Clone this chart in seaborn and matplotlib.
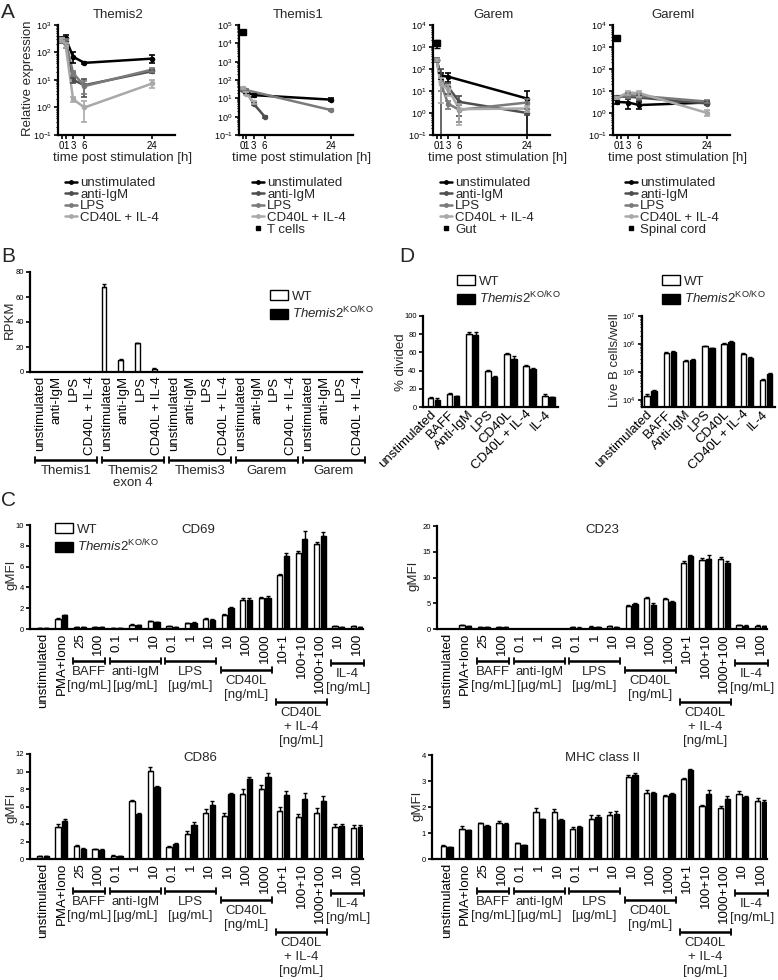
import numpy as np
import pandas as pd
import matplotlib
matplotlib.use("Agg")
import matplotlib.pyplot as plt
import matplotlib.transforms as mtrans
import seaborn as sns
from matplotlib.lines import Line2D
from matplotlib.patches import Patch
from matplotlib.ticker import LogLocator, NullFormatter, MultipleLocator

nan = np.nan

# ---------------- Panel A: qPCR time course ----------------
a_times = [0, 1, 3, 6, 24]
a_conditions = ["unstimulated", "anti-IgM", "LPS", "CD40L + IL-4"]
a_genes = ["Themis2", "Themis1", "Garem", "Gareml"]

themis2_expr = [[300, 330, 70, 42, 60],
                [280, 200, 10, 6.5, 21],
                [300, 260, 18, 6.0, 24],
                [290, 190, 2.0, 1.0, 7.5]]
themis2_err = [[60, 90, 30, 4, 18],
               [50, 50, 2, 4, 3],
               [50, 60, 4, 3, 4],
               [40, 40, 0.4, 0.7, 2.5]]

themis1_expr = [[30, 22, 15, nan, 8.5],
                [32, 24, 5, 1.0, nan],
                [30, 28, nan, nan, 2.3],
                [35, 18, 6, nan, nan]]
themis1_err = [[4, 4, 3, nan, 1.5],
               [4, 3, 0.8, 0.15, nan],
               [4, 4, nan, nan, 0.3],
               [4, 3, 1, nan, nan]]

garem_expr = [[260, 50, 45, nan, 4.5],
              [260, 30, 15, 3.2, 1.0],
              [260, 25, 2.6, 1.4, 3.0],
              [260, 20, 12, 1.5, 1.6]]
garem_err = [[40, 15, 20, nan, 5.5],
             [60, 70, 8, 2.5, 0.15],
             [50, 15, 1.0, 1.0, 1.5],
             [40, 17, 6, 1.2, 0.5]]

gareml_expr = [[3.2, nan, 3.0, 2.3, 3.0],
               [5.5, nan, 5.5, 5.0, 2.7],
               [5.0, nan, 6.5, 6.0, 3.3],
               [5.0, nan, 8.5, 8.0, 1.0]]
gareml_err = [[0.5, nan, 1.5, 0.8, 0.5],
              [0.5, nan, 1.0, 1.0, 0.4],
              [0.5, nan, 1.5, 1.5, 0.5],
              [0.5, nan, 2.0, 2.5, 0.3]]

tissue_names = [None, "T cells", "Gut", "Spinal cord"]
tissue_values = [nan, 40000, 1500, 2500]
tissue_errs = [nan, 8000, 600, 300]

# ---------------- Panel B: RNA-seq RPKM ----------------
b_stims = ["unstimulated", "anti-IgM", "LPS", "CD40L + IL-4"]
b_genes = ["Themis1", "Themis2\nexon 4", "Themis3", "Garem", "Garem"]
b_wt = [0, 0, 0, 0, 68, 9.5, 23, 2.5, 0, 0, 0, 0, 0, 0, 0, 0, 0, 0, 0, 0]
b_wt_err = [0, 0, 0, 0, 2.0, 0.8, 0.4, 0.5, 0, 0, 0, 0, 0, 0, 0, 0, 0, 0, 0, 0]
b_ko = [0, 0, 0, 0, 0, 0, 0, 0, 0, 0, 0, 0, 0, 0, 0, 0, 0, 0, 0, 0]
b_ko_err = [0, 0, 0, 0, 0, 0, 0, 0, 0, 0, 0, 0, 0, 0, 0, 0, 0, 0, 0, 0]

# ---------------- Panel C: surface markers ----------------
c_ticks = ["unstimulated", "PMA+Iono", "25", "100", "0.1", "1", "10", "0.1", "1",
           "10", "10", "100", "1000", "10+1", "100+10", "1000+100", "10", "100"]
c_groups = [("BAFF\n[ng/mL]", 2, 3), ("anti-IgM\n[µg/mL]", 4, 6),
            ("LPS\n[µg/mL]", 7, 9), ("CD40L\n[ng/mL]", 10, 12),
            ("CD40L\n+ IL-4\n[ng/mL]", 13, 15), ("IL-4\n[ng/mL]", 16, 17)]

cd69_wt = [0.1, 1.0, 0.2, 0.15, 0.1, 0.4, 0.75, 0.25, 0.55, 0.95, 1.3, 2.75, 2.95, 5.15, 7.3, 8.15, 0.25, 0.25]
cd69_wt_err = [0.02, 0.08, 0.03, 0.02, 0.02, 0.05, 0.06, 0.03, 0.06, 0.08, 0.1, 0.2, 0.1, 0.15, 0.2, 0.25, 0.03, 0.03]
cd69_ko = [0.1, 1.3, 0.15, 0.15, 0.1, 0.35, 0.65, 0.2, 0.6, 0.9, 2.0, 2.8, 3.0, 7.05, 8.7, 8.9, 0.2, 0.2]
cd69_ko_err = [0.02, 0.08, 0.03, 0.02, 0.02, 0.04, 0.05, 0.03, 0.06, 0.07, 0.08, 0.2, 0.15, 0.3, 0.7, 0.45, 0.03, 0.03]

cd23_wt = [0.05, 0.75, 0.35, 0.4, 0.05, 0.05, 0.05, 0.3, 0.45, 0.5, 4.4, 6.0, 5.8, 12.9, 13.4, 13.5, 0.75, 0.65]
cd23_wt_err = [0.02, 0.1, 0.05, 0.05, 0.01, 0.01, 0.01, 0.05, 0.05, 0.05, 0.2, 0.2, 0.2, 0.4, 0.3, 0.4, 0.1, 0.05]
cd23_ko = [0.05, 0.55, 0.3, 0.3, 0.05, 0.05, 0.05, 0.25, 0.35, 0.35, 4.85, 4.7, 5.2, 14.1, 13.5, 12.9, 0.6, 0.5]
cd23_ko_err = [0.02, 0.1, 0.05, 0.05, 0.01, 0.01, 0.01, 0.05, 0.05, 0.05, 0.2, 0.3, 0.2, 0.3, 0.8, 0.4, 0.1, 0.05]

cd86_wt = [0.3, 3.7, 1.45, 1.1, 0.4, 6.6, 10.1, 1.35, 2.9, 5.3, 4.9, 7.4, 8.0, 5.5, 4.75, 5.3, 3.7, 3.6]
cd86_wt_err = [0.03, 0.3, 0.1, 0.08, 0.05, 0.1, 0.4, 0.1, 0.3, 0.4, 0.35, 0.6, 0.5, 0.45, 0.35, 0.5, 0.3, 0.25]
cd86_ko = [0.3, 4.4, 1.2, 1.05, 0.35, 5.2, 8.2, 1.75, 3.9, 6.2, 7.4, 9.2, 9.4, 7.3, 6.9, 6.6, 3.8, 3.7]
cd86_ko_err = [0.03, 0.2, 0.05, 0.05, 0.05, 0.1, 0.15, 0.1, 0.35, 0.4, 0.15, 0.15, 0.45, 0.45, 0.6, 0.55, 0.2, 0.15]

mhc_wt = [0.5, 1.15, 1.37, 1.4, 0.6, 1.82, 1.8, 1.15, 1.55, 1.7, 3.15, 2.55, 2.42, 3.08, 2.05, 1.98, 2.5, 2.22]
mhc_wt_err = [0.03, 0.12, 0.03, 0.05, 0.03, 0.15, 0.13, 0.08, 0.15, 0.1, 0.07, 0.1, 0.03, 0.04, 0.03, 0.05, 0.12, 0.13]
mhc_ko = [0.45, 1.1, 1.28, 1.35, 0.52, 1.52, 1.5, 1.22, 1.63, 1.75, 3.22, 2.55, 2.5, 3.42, 2.5, 2.32, 2.4, 2.2]
mhc_ko_err = [0.02, 0.03, 0.03, 0.04, 0.02, 0.02, 0.05, 0.05, 0.07, 0.1, 0.1, 0.02, 0.05, 0.04, 0.15, 0.12, 0.04, 0.08]

# ---------------- Panel D: proliferation / survival ----------------
d_labels = ["unstimulated", "BAFF", "Anti-IgM", "LPS", "CD40L", "CD40L + IL-4", "IL-4"]
div_wt = [9.9, 14, 80, 39.3, 58, 45, 11.8]
div_wt_err = [0.8, 1.2, 2.0, 1.2, 1.5, 1.0, 3.0]
div_ko = [7.4, 11.8, 79.4, 33, 53, 42.3, 10.7]
div_ko_err = [2.5, 0.8, 2.5, 0.6, 2.5, 1.0, 0.8]
live_wt = [1.4e4, 4.6e5, 2.5e5, 8.3e5, 1.0e6, 4.3e5, 5.2e4]
live_wt_err = [2.5e3, 4e4, 1.5e4, 4e4, 5e4, 4e4, 4e3]
live_ko = [2.0e4, 5.0e5, 2.7e5, 6.9e5, 1.18e6, 3.1e5, 8.5e4]
live_ko_err = [2e3, 4e4, 1.5e4, 3e4, 6e4, 2.5e4, 5e3]

# ---------------- style ----------------
cond_colors = {"unstimulated": "#000000", "anti-IgM": "#4e4e4e",
               "LPS": "#7a7a7a", "CD40L + IL-4": "#a9a9a9"}
geno_colors = {"WT": "white", "KO": "black"}
ko_label = r"$\mathit{Themis2}^{\mathrm{KO/KO}}$"

sns.set_theme(style="ticks")
plt.rcParams["font.family"] = ["Liberation Sans", "DejaVu Sans"]
plt.rcParams.update({
    "mathtext.fontset": "custom",
    "mathtext.rm": "Liberation Sans",
    "mathtext.it": "Liberation Sans:italic",
    "mathtext.bf": "Liberation Sans:bold",
    "axes.linewidth": 1.6,
    "axes.edgecolor": "black",
    "xtick.color": "black", "ytick.color": "black",
    "xtick.major.width": 1.2, "ytick.major.width": 1.2,
    "xtick.major.size": 3, "ytick.major.size": 3,
    "xtick.minor.width": 0.8, "ytick.minor.width": 0.8,
    "xtick.minor.size": 1.8, "ytick.minor.size": 1.8,
    "xtick.major.pad": 1.5, "ytick.major.pad": 1.5,
})

W, H = 778, 980
fig = plt.figure(figsize=(W / 100, H / 100), dpi=100)


def px_axes(x0, x1, y0, y1):
    return fig.add_axes([x0 / W, 1 - y1 / H, (x1 - x0) / W, (y1 - y0) / H])


def ftext(x, y, s, **kw):
    kw.setdefault("ha", "center")
    kw.setdefault("va", "center")
    fig.text(x / W, 1 - y / H, s, **kw)


def bracket(ax, x0, x1, ypx, label=None, fs=9, ls=1.2):
    tr = mtrans.blended_transform_factory(ax.transData, fig.transFigure)
    y = 1 - ypx / H
    h = 3 / H
    ax.plot([x0, x1], [y, y], transform=tr, color="black", lw=1.8,
            clip_on=False, solid_capstyle="butt")
    for xx in (x0, x1):
        ax.plot([xx, xx], [y - h, y + h], transform=tr, color="black",
                lw=1.3, clip_on=False)
    if label:
        ax.text((x0 + x1) / 2, y - 5 / H, label, transform=tr, ha="center",
                va="top", fontsize=fs, linespacing=ls)


def bar_panel(ax, wt, ko, wt_err, ko_err):
    n = len(wt)
    df = pd.DataFrame({"pos": list(range(n)) * 2,
                       "value": list(wt) + list(ko),
                       "genotype": ["WT"] * n + ["KO"] * n})
    sns.barplot(data=df, x="pos", y="value", hue="genotype",
                hue_order=["WT", "KO"], palette=geno_colors, saturation=1,
                width=0.72, gap=0.2, edgecolor="black", linewidth=1.0,
                errorbar=None, legend=False, ax=ax)
    bars = list(ax.containers)
    for cont, err in zip(bars, [wt_err, ko_err]):
        xs = [p.get_x() + p.get_width() / 2 for p in cont.patches]
        ys = [p.get_height() for p in cont.patches]
        ax.errorbar(xs, ys, yerr=[np.zeros(n), err], fmt="none",
                    ecolor="black", elinewidth=1.0, capsize=1.6, capthick=1.0)
    ax.set_xlabel("")
    ax.set_ylabel("")
    sns.despine(ax=ax)


def geno_legend(ax, xpx, ytop):
    handles = [Patch(facecolor="white", edgecolor="black", linewidth=1),
               Patch(facecolor="black", edgecolor="black", linewidth=1)]
    ax.legend(handles, ["WT", ko_label], loc="upper left",
              bbox_to_anchor=(xpx / W, 1 - ytop / H),
              bbox_transform=fig.transFigure, frameon=False, fontsize=9.5,
              handlelength=1.4, handleheight=0.8, handletextpad=0.3,
              labelspacing=0.15, borderpad=0, borderaxespad=0)


# ================= Panel A =================
a_expr = [themis2_expr, themis1_expr, garem_expr, gareml_expr]
a_err = [themis2_err, themis1_err, garem_err, gareml_err]
a_xpx = [(58, 175), (239, 353), (433, 550), (613, 730)]
a_ylims = [(1e-1, 1e3), (1e-1, 1e5), (1e-1, 1e4), (1e-1, 1e4)]
a_legend_x = [65, 252, 440, 625]

for k, gene in enumerate(a_genes):
    x0, x1 = a_xpx[k]
    ax = px_axes(x0, x1, 25, 135)
    rows = []
    for ci, cond in enumerate(a_conditions):
        for ti, t in enumerate(a_times):
            rows.append((cond, t, a_expr[k][ci][ti]))
    df = pd.DataFrame(rows, columns=["condition", "time", "expr"]).dropna()
    sns.lineplot(data=df, x="time", y="expr", hue="condition",
                 hue_order=a_conditions, palette=cond_colors, marker="o",
                 markersize=4, markeredgewidth=0, linewidth=1.8,
                 errorbar=None, legend=False, ax=ax)
    for ci, cond in enumerate(a_conditions):
        ax.errorbar(a_times, a_expr[k][ci], yerr=a_err[k][ci], fmt="none",
                    ecolor=cond_colors[cond], elinewidth=1.2, capsize=2.2,
                    capthick=1.2)
    if tissue_names[k]:
        ax.errorbar([0], [tissue_values[k]], yerr=[tissue_errs[k]], fmt="s",
                    color="black", ms=4, elinewidth=1.2, capsize=2.2, zorder=5)
    ax.set_yscale("log")
    ax.set_ylim(*a_ylims[k])
    ax.set_xlim(-1, 30)
    ax.set_xticks(a_times)
    ax.yaxis.set_major_locator(LogLocator(base=10, numticks=12))
    ax.yaxis.set_minor_locator(LogLocator(base=10, subs=np.arange(2, 10), numticks=12))
    ax.yaxis.set_minor_formatter(NullFormatter())
    ax.tick_params(axis="x", labelsize=7)
    ax.tick_params(axis="y", labelsize=6.5)
    ax.set_xlabel("")
    ax.set_ylabel("")
    sns.despine(ax=ax)
    ftext((x0 + x1) / 2 + 2, 15, gene, fontsize=9.5)
    ftext((x0 + x1) / 2 + 6, 158, "time post stimulation [h]", fontsize=9.5)

    handles = [Line2D([0], [0], color=cond_colors[c], marker="o", ms=3.5,
                      mew=0, lw=1.8) for c in a_conditions]
    labels = list(a_conditions)
    if tissue_names[k]:
        handles.append(Line2D([0], [0], color="black", marker="s", ms=3.5, ls="none"))
        labels.append(tissue_names[k])
    ax.legend(handles, labels, loc="upper left",
              bbox_to_anchor=(a_legend_x[k] / W, 1 - 177 / H),
              bbox_transform=fig.transFigure, frameon=False, fontsize=9.5,
              handlelength=0.9, handletextpad=0.25, labelspacing=-0.05,
              borderpad=0, borderaxespad=0, numpoints=1)

ftext(28, 78, "Relative expression", fontsize=9.5, rotation=90)

# ================= Panel B =================
ax = px_axes(30, 362, 272, 372)
bar_panel(ax, b_wt, b_ko, b_wt_err, b_ko_err)
ax.set_ylim(0, 80)
ax.set_yticks([0, 20, 40, 60, 80])
ax.tick_params(axis="y", labelsize=5.5)
ax.set_xticks(range(len(b_wt)))
ax.set_xticklabels(b_stims * len(b_genes), rotation=90, fontsize=9.5)
ax.tick_params(axis="x", length=0, pad=3)
for g, name in enumerate(b_genes):
    bracket(ax, 4 * g - 0.3, 4 * g + 3.4, 460, name, fs=9.5, ls=1.0)
ax.set_xlim(-0.6, 19.25)
geno_legend(ax, 270, 290)
ftext(10, 320, "RPKM", fontsize=9.5, rotation=90)

# ================= Panel D =================
ax = px_axes(423, 558, 316, 407)
bar_panel(ax, div_wt, div_ko, div_wt_err, div_ko_err)
ax.set_ylim(0, 100)
ax.set_yticks(range(0, 101, 20))
ax.tick_params(axis="y", labelsize=5.5)
ax.set_xticks(range(len(d_labels)))
ax.set_xticklabels(d_labels, rotation=45, ha="right", va="center",
                   rotation_mode="anchor", fontsize=9.5)
ax.tick_params(axis="x", length=0, pad=4)
ax.set_xlim(-0.58, 6.5)
geno_legend(ax, 457, 275)
ftext(401, 362, "% divided", fontsize=9.5, rotation=90)

ax = px_axes(642, 775, 316, 407)
bar_panel(ax, live_wt, live_ko, live_wt_err, live_ko_err)
ax.set_yscale("log")
ax.set_ylim(5.5e3, 1e7)
ax.yaxis.set_major_locator(LogLocator(base=10, numticks=12))
ax.yaxis.set_minor_locator(LogLocator(base=10, subs=np.arange(2, 10), numticks=12))
ax.yaxis.set_minor_formatter(NullFormatter())
ax.tick_params(axis="y", labelsize=5.5)
ax.set_xticks(range(len(d_labels)))
ax.set_xticklabels(d_labels, rotation=45, ha="right", va="center",
                   rotation_mode="anchor", fontsize=9.5)
ax.tick_params(axis="x", length=0, pad=4)
ax.set_xlim(-0.45, 6.46)
geno_legend(ax, 662, 275)
ftext(615, 360, "Live B cells/well", fontsize=9.5, rotation=90)

# ================= Panel C =================
c_panels = [("CD69", cd69_wt, cd69_ko, cd69_wt_err, cd69_ko_err),
            ("CD23", cd23_wt, cd23_ko, cd23_wt_err, cd23_ko_err),
            ("CD86", cd86_wt, cd86_ko, cd86_wt_err, cd86_ko_err),
            ("MHC class II", mhc_wt, mhc_ko, mhc_wt_err, mhc_ko_err)]
c_boxes = [(30, 363, 525, 629), (437, 767, 526, 629),
           (30, 363, 754, 859), (432, 767, 755, 859)]
c_xlims = [(-0.7, 17.33), (-0.53, 17.33), (-0.7, 17.33), (-0.8, 17.33)]
c_ylims = [10, 20, 12, 4]
c_ysteps = [2, 5, 2, 1]
c_title_xy = [(198, 530), (602, 530), (200, 758), (603, 758)]
c_ylabel_xy = [(11, 575), (413, 576), (12, 808), (417, 806)]
c_drop = [32, 32, 32, 41, 73, 34]

for k, (name, wt, ko, wt_err, ko_err) in enumerate(c_panels):
    x0, x1, y0, y1 = c_boxes[k]
    ax = px_axes(x0, x1, y0, y1)
    bar_panel(ax, wt, ko, wt_err, ko_err)
    ax.set_ylim(0, c_ylims[k])
    ax.yaxis.set_major_locator(MultipleLocator(c_ysteps[k]))
    ax.tick_params(axis="y", labelsize=5.5)
    ax.set_xticks(range(len(c_ticks)))
    ax.set_xticklabels(c_ticks, rotation=90, fontsize=9.5)
    ax.tick_params(axis="x", length=0, pad=3)
    for (label, i0, i1), drop in zip(c_groups, c_drop):
        bracket(ax, i0 - 0.38, i1 + 0.38, y1 + drop, label, fs=9.5, ls=1.2)
    ax.set_xlim(*c_xlims[k])
    ftext(*c_title_xy[k], name, fontsize=9.5)
    ftext(*c_ylabel_xy[k], "gMFI", fontsize=9.5, rotation=90)
    if k == 0:
        geno_legend(ax, 55, 523)

# panel letters
ftext(1, 12, "A", fontsize=15, ha="left")
ftext(1, 257, "B", fontsize=15, ha="left")
ftext(399, 257, "D", fontsize=15, ha="left")
ftext(1, 500, "C", fontsize=15, ha="left")

fig.savefig("out.png", dpi=100)
